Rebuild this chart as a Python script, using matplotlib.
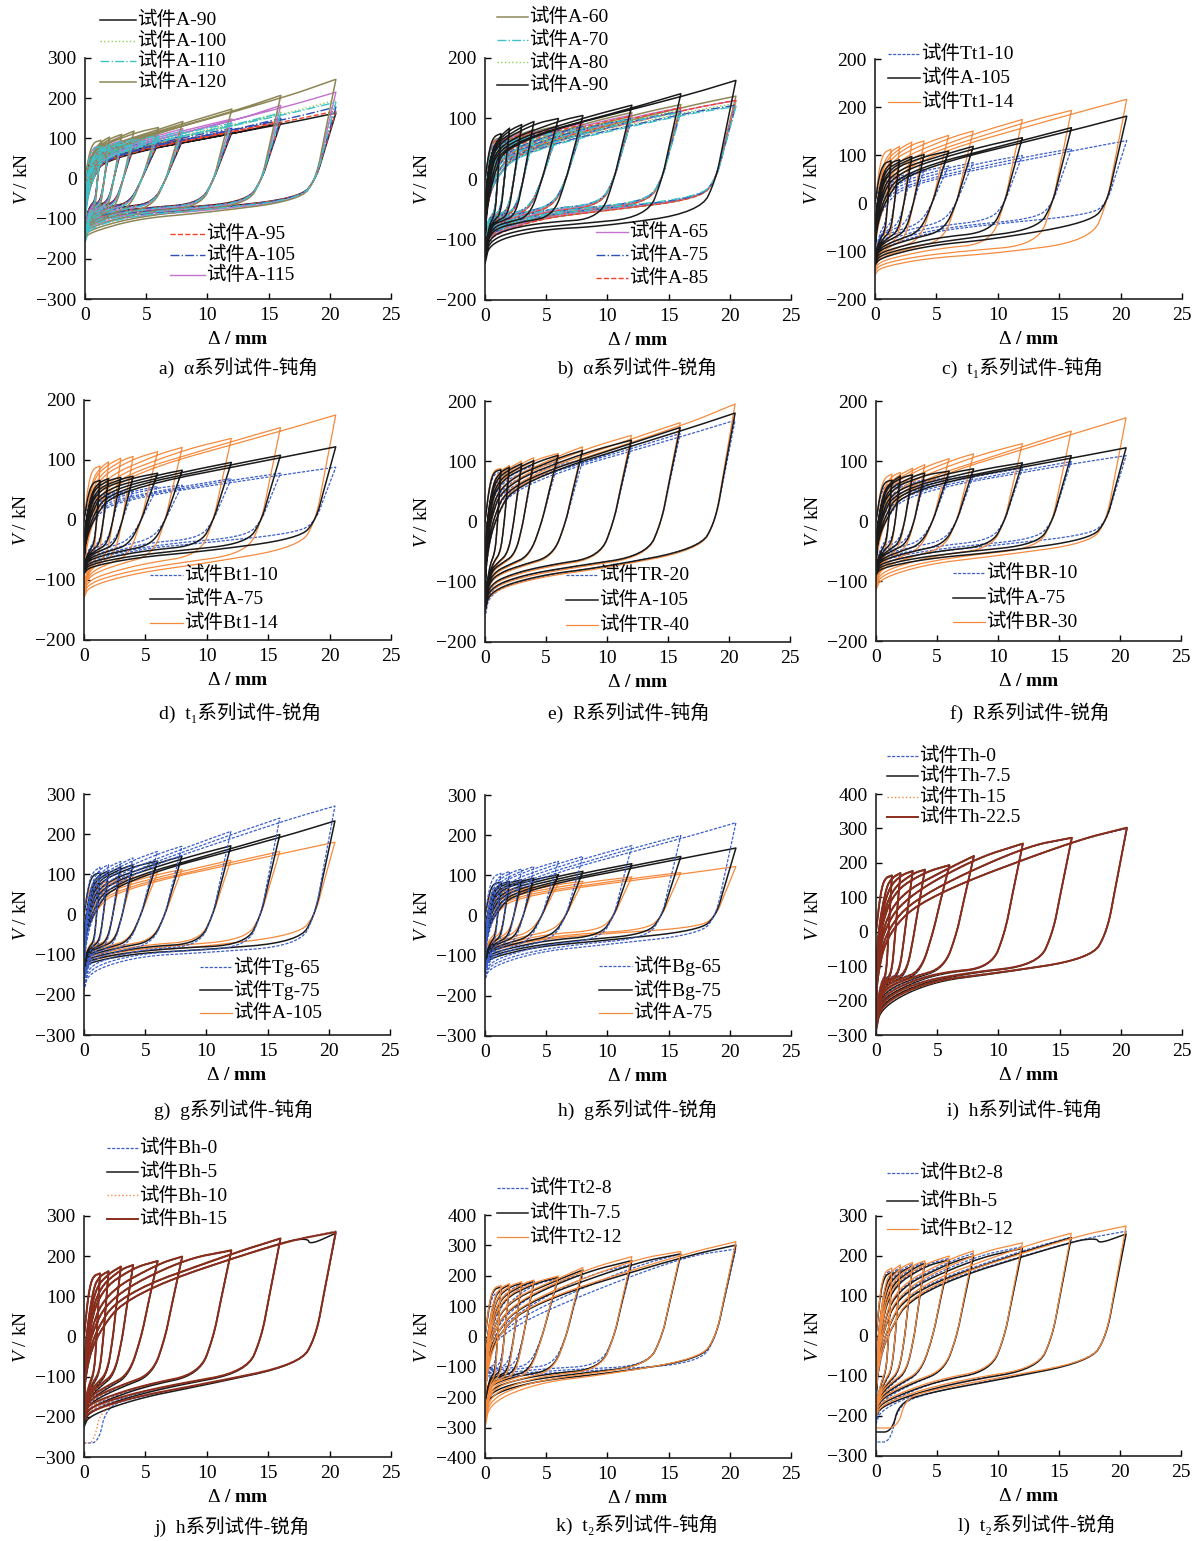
import numpy as np
import matplotlib
matplotlib.use('Agg')
import matplotlib.pyplot as plt
from matplotlib.lines import Line2D

plt.rcParams['font.family'] = ['Liberation Serif', 'Noto Sans CJK SC', 'DejaVu Sans']
plt.rcParams['mathtext.fontset'] = 'custom'
plt.rcParams['mathtext.rm'] = 'Liberation Serif'
plt.rcParams['mathtext.it'] = 'Liberation Serif:italic'
plt.rcParams['mathtext.bf'] = 'Liberation Serif:bold'
plt.rcParams['axes.unicode_minus'] = True

W, H = 1198, 1541

# loading amplitudes (mm), same for every specimen
amp = [1.3, 2, 3, 4, 6, 8, 12, 16, 20.5]
# displacements (mm) where the negative branch is read
low_x = [0, 0.5, 5, 10, 16, 20]

# ---- a) alpha series, obtuse
a_names = ['试件A-90', '试件A-100', '试件A-110', '试件A-120', '试件A-95', '试件A-105', '试件A-115']
a_peak = [[68, 72, 76, 80, 88, 97, 115, 140, 163],
          [75, 80, 86, 92, 102, 113, 135, 165, 195],
          [80, 86, 92, 98, 108, 118, 138, 163, 190],
          [95, 103, 110, 118, 127, 142, 173, 207, 247],
          [70, 75, 80, 84, 92, 101, 120, 145, 168],
          [72, 78, 83, 88, 96, 106, 125, 150, 178],
          [82, 88, 95, 102, 112, 124, 148, 182, 215]]
a_yield = [62, 70, 75, 90, 65, 68, 78]
a_low = [[-125, -95, -85, -75, -55, -40],
         [-140, -100, -88, -78, -58, -42],
         [-160, -110, -88, -78, -58, -42],
         [-150, -130, -95, -85, -62, -45],
         [-130, -98, -85, -76, -55, -40],
         [-135, -100, -86, -77, -57, -40],
         [-145, -105, -90, -80, -60, -45]]
a_soft = [0.2, 0.2, 0.2, 0.2, 0.2, 0.2, 0.2]

# ---- b) alpha series, acute
b_names = ['试件A-60', '试件A-70', '试件A-80', '试件A-90', '试件A-65', '试件A-75', '试件A-85']
b_peak = [[68, 72, 78, 82, 88, 95, 110, 123, 137],
          [58, 63, 68, 72, 78, 85, 100, 110, 120],
          [62, 67, 72, 76, 82, 88, 102, 114, 125],
          [75, 84, 90, 95, 100, 105, 122, 141, 163],
          [66, 70, 75, 80, 86, 92, 106, 118, 130],
          [60, 65, 70, 75, 80, 87, 100, 112, 122],
          [64, 69, 74, 78, 84, 90, 104, 118, 130]]
b_yield = [65, 55, 60, 70, 62, 57, 62]
b_low = [[-110, -88, -62, -52, -38, -25],
         [-100, -85, -57, -48, -34, -22],
         [-105, -86, -58, -49, -35, -24],
         [-140, -95, -82, -78, -62, -45],
         [-110, -88, -60, -50, -36, -25],
         [-105, -85, -57, -48, -35, -25],
         [-115, -90, -62, -52, -38, -26]]
b_soft = [0.45, 0.45, 0.45, 0.2, 0.45, 0.45, 0.45]

# ---- c) t1 series, obtuse
c_names = ['试件Tt1-10', '试件A-105', '试件Tt1-14']
c_peak = [[55, 58, 63, 70, 77, 84, 99, 113, 130],
          [88, 90, 97, 101, 108, 118, 136, 157, 181],
          [112, 118, 127, 129, 141, 150, 174, 193, 216]]
c_yield = [50, 82, 105]
c_low = [[-130, -85, -57, -43, -30, -15],
         [-130, -110, -85, -75, -50, -25],
         [-150, -130, -112, -105, -92, -60]]
c_soft = [0.45, 0.35, 0.35]

# ---- d) t1 series, acute
d_names = ['试件Bt1-10', '试件A-75', '试件Bt1-14']
d_peak = [[42, 45, 48, 50, 56, 58, 69, 78, 88],
          [66, 69, 71, 73, 78, 83, 96, 108, 122],
          [90, 97, 103, 106, 114, 121, 136, 154, 175]]
d_yield = [40, 62, 85]
d_low = [[-85, -70, -45, -38, -25, -15],
         [-90, -75, -60, -52, -38, -20],
         [-130, -105, -85, -72, -55, -30]]
d_soft = [0.35, 0.35, 0.35]

# ---- e) R series, obtuse
e_names = ['试件TR-20', '试件A-105', '试件TR-40']
e_peak = [[82, 85, 89, 93, 99, 101, 126, 146, 168],
          [86, 90, 96, 101, 110, 118, 135, 156, 180],
          [88, 93, 100, 106, 113, 124, 143, 164, 195]]
e_yield = [78, 82, 85]
e_low = [[-160, -105, -88, -75, -55, -30],
         [-150, -105, -87, -75, -55, -30],
         [-150, -108, -90, -77, -57, -32]]
e_soft = [0.35, 0.35, 0.35]

# ---- f) R series, acute
f_names = ['试件BR-10', '试件A-75', '试件BR-30']
f_peak = [[62, 65, 67, 69, 73, 77, 88, 99, 109],
          [68, 75, 77, 80, 83, 87, 97, 109, 122],
          [78, 81, 88, 94, 104, 112, 129, 150, 172]]
f_yield = [58, 65, 72]
f_low = [[-85, -65, -50, -40, -28, -15],
         [-90, -75, -60, -52, -38, -20],
         [-115, -90, -68, -58, -45, -25]]
f_soft = [0.35, 0.35, 0.35]

# ---- g) g series, obtuse
g_names = ['试件Tg-65', '试件Tg-75', '试件A-105']
g_peak = [[118, 124, 132, 141, 157, 170, 207, 240, 270],
          [104, 108, 118, 124, 133, 145, 171, 199, 233],
          [80, 83, 90, 96, 104, 112, 135, 157, 180]]
g_yield = [105, 98, 76]
g_low = [[-190, -130, -100, -95, -90, -60],
         [-135, -115, -93, -88, -80, -50],
         [-130, -110, -88, -80, -60, -35]]
g_soft = [0.35, 0.35, 0.35]

# ---- h) g series, acute
h_names = ['试件Bg-65', '试件Bg-75', '试件A-75']
h_peak = [[105, 110, 116, 122, 135, 147, 174, 199, 231],
          [82, 85, 89, 93, 102, 110, 129, 147, 168],
          [65, 68, 70, 73, 81, 85, 96, 107, 122]]
h_yield = [98, 80, 62]
h_low = [[-160, -120, -85, -72, -55, -35],
         [-125, -100, -73, -62, -45, -25],
         [-100, -85, -55, -45, -35, -20]]
h_soft = [0.35, 0.35, 0.35]

# ---- i) h series, obtuse
i_names = ['试件Th-0', '试件Th-7.5', '试件Th-15', '试件Th-22.5']
i_peak = [[162, 170, 176, 180, 192, 219, 255, 272, 300],
          [164, 171, 177, 181, 194, 220, 256, 273, 302],
          [163, 170, 176, 180, 193, 219, 256, 273, 303],
          [163, 170, 176, 180, 193, 220, 256, 273, 302]]
i_yield = [153, 156, 155, 155]
i_low = [[-270, -185, -135, -120, -90, -60],
         [-290, -200, -138, -121, -91, -60],
         [-280, -195, -136, -120, -90, -60],
         [-285, -190, -135, -120, -91, -60]]
i_soft = [0.7, 0.7, 0.7, 0.7]

# ---- j) h series, acute
j_names = ['试件Bh-0', '试件Bh-5', '试件Bh-10', '试件Bh-15']
j_peak = [[157, 162, 174, 178, 188, 199, 214, 244, 262],
          [157, 163, 174, 178, 188, 199, 215, 244, 257],
          [158, 163, 175, 179, 189, 200, 216, 245, 262],
          [157, 162, 174, 178, 188, 199, 214, 244, 260]]
j_yield = [148, 150, 150, 150]
j_low = [[-225, -185, -145, -118, -85, -45],
         [-225, -190, -148, -120, -86, -45],
         [-220, -185, -143, -117, -85, -45],
         [-210, -180, -143, -117, -85, -45]]
j_soft = [0.6, 0.6, 0.6, 0.6]
j_floor = [(-265, 1.2), None, (-265, 0.8), None]   # (force, end displacement)
j_dip = [None, (18.4, 18), None, None]              # (displacement, drop)

# ---- k) t2 series, obtuse
k_names = ['试件Tt2-8', '试件Th-7.5', '试件Tt2-12']
k_peak = [[150, 160, 172, 180, 190, 205, 238, 272, 288],
          [163, 170, 175, 181, 195, 219, 250, 272, 301],
          [168, 174, 180, 186, 199, 227, 263, 280, 312]]
k_yield = [140, 155, 160]
k_low = [[-150, -135, -120, -110, -100, -70],
         [-250, -175, -140, -122, -90, -55],
         [-300, -195, -145, -125, -88, -50]]
k_soft = [0.9, 0.6, 0.6]

# ---- l) t2 series, acute
l_names = ['试件Bt2-8', '试件Bh-5', '试件Bt2-12']
l_peak = [[165, 172, 180, 186, 194, 207, 223, 247, 262],
          [160, 167, 175, 182, 190, 200, 219, 246, 255],
          [170, 178, 184, 188, 200, 213, 233, 257, 275]]
l_yield = [155, 150, 160]
l_low = [[-230, -185, -135, -108, -78, -40],
         [-210, -180, -135, -110, -80, -40],
         [-210, -175, -130, -105, -78, -40]]
l_soft = [0.5, 0.5, 0.5]
l_floor = [(-265, 1.2), (-240, 1.3), (-230, 1.8)]
l_dip = [None, (18.3, 15), None]

# line styles
BLACK = dict(color='#1a1a1a', linewidth=1.1, linestyle='-')
BLUE = dict(color='#3b5fc9', linewidth=0.9, linestyle=(0, (2.5, 1.2)))
ORANGE = dict(color='#f58a3d', linewidth=0.9, linestyle='-')
ORANGE_DOT = dict(color='#f58a3d', linewidth=1.0, linestyle=':')
BROWN = dict(color='#8a2d1c', linewidth=1.4, linestyle='-')
GREEN = dict(color='#8fd14f', linewidth=1.0, linestyle=':')
CYAN = dict(color='#3fc1c9', linewidth=1.0, linestyle='-.')
OLIVE = dict(color='#8d8757', linewidth=1.1, linestyle='-')
RED = dict(color='#f2402a', linewidth=1.0, linestyle='--')
NAVY = dict(color='#2e4fb5', linewidth=1.0, linestyle='-.')
VIOLET = dict(color='#c272cf', linewidth=1.0, linestyle='-')


def chaikin(p, n=3):
    p = np.asarray(p, float)
    for _ in range(n):
        q = 0.75 * p[:-1] + 0.25 * p[1:]
        r = 0.25 * p[:-1] + 0.75 * p[1:]
        m = np.empty((2 * len(q), 2))
        m[0::2] = q
        m[1::2] = r
        p = np.vstack([p[:1], m, p[-1:]])
    return p


def loops(peak, vy, low, soft, kf, floor=None, dip=None):
    up_x = [0, 0.7] + amp
    up_v = [0, vy] + list(peak)
    segs = []
    v0 = 0.0
    last = len(amp) - 1
    for i, (d, vp) in enumerate(zip(amp, peak)):
        s = d / amp[-1]
        # reloading branch
        if i == 0:
            up = [(0, 0), (0.35, 0.7 * vy), (0.7, vy), (d, vp)]
        else:
            dp, vpp = amp[i - 1], peak[i - 1]
            xz = 0.1 + 0.045 * dp * (0.5 + soft)
            xa = xz + 0.4 + 0.25 * soft * dp
            ca = 0.85 - 0.4 * soft * min(1, dp / 8)
            up = [(0, v0), (0.04, 0.5 * v0), (xz, 0), (xa, ca * np.interp(xa, up_x, up_v))]
            if dp > xa + 0.3:
                up.append((dp, 0.96 * vpp))
            if dip is not None and i == last:
                xd, dv = dip
                x_prev, v_prev = up[-1]
                line = lambda x: v_prev + (vp - v_prev) * (x - x_prev) / (d - x_prev)
                up += [(xd - 0.2, line(xd - 0.2)), (xd, line(xd) - dv)]
            up.append((d, vp))
        # unloading and negative branch
        u = min(1.0, d / 6)
        x1 = d - (0.7 + 0.01 * d) * u
        x2 = d - (1.2 + 0.02 * d) * u
        xk = x2 - (0.9 + 0.02 * d) * u
        fk = kf + (1 - kf) * s
        g0 = 0.8 + 0.2 * s

        def lf(x):
            return (g0 + (fk - g0) * x / xk) * np.interp(x, low_x, low)

        lo = [(d, vp), (x1, 0.45 * vp), (x2, 0)]
        tail = [xk, 0.55 * xk, 0.25 * xk, min(0.4, 0.1 * xk), 0]
        if floor is not None and i == last:
            fv, fx = floor
            tail = [x for x in tail if x > fx + 0.6]
            lo += [(x, lf(x)) for x in tail]
            lo += [(fx + 0.6, lf(fx + 0.6)), (fx, fv), (0, fv)]
        else:
            lo += [(x, lf(x)) for x in tail]
        v0 = lo[-1][1]
        segs.append(chaikin(up, 3))
        segs.append(chaikin(lo, 3)[1:])
    pts = np.vstack(segs)
    return pts[:, 0], pts[:, 1]


fig = plt.figure(figsize=(W / 100, H / 100), dpi=100)


def make_axes(box, ylo, yhi, labels=None):
    l, r, t, b = box
    ax = fig.add_axes([l / W, 1 - b / H, (r - l) / W, (b - t) / H])
    ax.set_xlim(0, 25)
    ax.set_ylim(ylo, yhi)
    ax.set_xticks(range(0, 26, 5))
    yt = list(range(ylo, yhi + 1, 100))
    ax.set_yticks(yt)
    if labels is None:
        labels = [str(v).replace('-', '\u2212') for v in yt]
    ax.set_yticklabels(labels)
    for sp in ('top', 'right'):
        ax.spines[sp].set_visible(False)
    for sp in ('left', 'bottom'):
        ax.spines[sp].set_linewidth(1.2)
        ax.spines[sp].set_color('#222222')
    ax.tick_params(direction='in', length=4, width=1, labelsize=14, pad=6)
    ax.set_xlabel(r'$\mathit{Δ}$ / mm', fontsize=14, fontweight='bold', labelpad=5)
    ax.set_ylabel(r'$V$ / kN', fontsize=14, labelpad=4)
    return ax


def draw_key(x0, x1, y, sty, text):
    fy = 1 - y / H
    fig.add_artist(Line2D([x0 / W, x1 / W], [fy, fy], transform=fig.transFigure, **sty))
    fig.text((x1 + 1) / W, fy, text, fontsize=14, va='center', ha='left')


def panel(box, ylo, yhi, names, peak, yld, low, soft, kf, styles, order, keys,
          caption, cap_xy, floors=None, dips=None, labels=None):
    ax = make_axes(box, ylo, yhi, labels)
    for k in order:
        fl = floors[k] if floors else None
        dp = dips[k] if dips else None
        x, v = loops(peak[k], yld[k], low[k], soft[k], kf, fl, dp)
        ax.plot(x, v, **styles[k])
    for x0, x1, y0, dy, idx in keys:
        for n, k in enumerate(idx):
            draw_key(x0, x1, y0 + n * dy, styles[k], names[k])
    fig.text(cap_xy[0] / W, 1 - cap_xy[1] / H, caption, fontsize=14, ha='center', va='center')
    return ax


panel((85, 391, 58, 299), -300, 300, a_names, a_peak, a_yield, a_low, a_soft, 0.55,
      [BLACK, GREEN, CYAN, OLIVE, RED, NAVY, VIOLET], [0, 4, 1, 5, 6, 3, 2],
      [(100, 136, 20, 20.5, [0, 1, 2, 3]), (170, 205, 234, 20.5, [4, 5, 6])],
      'a)  α系列试件-钝角', (238, 368))

panel((485, 791, 58, 300), -200, 200, b_names, b_peak, b_yield, b_low, b_soft, 0.6,
      [OLIVE, CYAN, GREEN, BLACK, VIOLET, NAVY, RED], [0, 4, 6, 2, 5, 1, 3],
      [(497, 528, 17, 22.7, [0, 1, 2, 3]), (596, 628, 232, 23, [4, 5, 6])],
      'b)  α系列试件-锐角', (637, 368))

panel((875, 1182, 59, 299), -200, 300, c_names, c_peak, c_yield, c_low, c_soft, 0.5,
      [BLUE, BLACK, ORANGE], [0, 2, 1],
      [(888, 920, 54, 24, [0, 1, 2])],
      'c)  t\u2081系列试件-钝角', (1022, 368),
      labels=['\u2212200', '\u2212100', '0', '100', '200', '200'])

panel((84, 391, 400, 640), -200, 200, d_names, d_peak, d_yield, d_low, d_soft, 0.5,
      [BLUE, BLACK, ORANGE], [0, 2, 1],
      [(150, 183, 575, 24, [0, 1, 2])],
      'd)  t\u2081系列试件-锐角', (240, 713))

panel((485, 790, 401, 642), -200, 200, e_names, e_peak, e_yield, e_low, e_soft, 0.45,
      [BLUE, BLACK, ORANGE], [0, 2, 1],
      [(566, 598, 575, 25, [0, 1, 2])],
      'e)  R系列试件-钝角', (629, 713))

panel((876, 1181, 401, 641), -200, 200, f_names, f_peak, f_yield, f_low, f_soft, 0.45,
      [BLUE, BLACK, ORANGE], [0, 2, 1],
      [(953, 985, 573, 24.5, [0, 1, 2])],
      'f)  R系列试件-锐角', (1030, 713))

panel((84, 390, 794, 1035), -300, 300, g_names, g_peak, g_yield, g_low, g_soft, 0.55,
      [BLUE, BLACK, ORANGE], [2, 1, 0],
      [(200, 232, 967, 23, [0, 1, 2])],
      'g)  g系列试件-钝角', (234, 1110))

panel((485, 791, 795, 1036), -300, 300, h_names, h_peak, h_yield, h_low, h_soft, 0.5,
      [BLUE, BLACK, ORANGE], [2, 1, 0],
      [(599, 632, 966, 23.5, [0, 1, 2])],
      'h)  g系列试件-锐角', (638, 1110))

panel((876, 1182, 794, 1035), -300, 400, i_names, i_peak, i_yield, i_low, i_soft, 0.65,
      [BLUE, BLACK, ORANGE_DOT, BROWN], [0, 1, 2, 3],
      [(887, 918, 756, 20.3, [0, 1, 2, 3])],
      'i)  h系列试件-钝角', (1025, 1110))

panel((84, 391, 1216, 1457), -300, 300, j_names, j_peak, j_yield, j_low, j_soft, 0.45,
      [BLUE, BLACK, ORANGE_DOT, BROWN], [0, 1, 2, 3],
      [(107, 138, 1148, 23.7, [0, 1, 2, 3])],
      'j)  h系列试件-锐角', (232, 1527), floors=j_floor, dips=j_dip)

panel((485, 791, 1215, 1458), -400, 400, k_names, k_peak, k_yield, k_low, k_soft, 0.65,
      [BLUE, BLACK, ORANGE], [0, 1, 2],
      [(497, 528, 1188, 24.5, [0, 1, 2])],
      'k)  t\u2082系列试件-钝角', (637, 1525))

panel((876, 1181, 1216, 1456), -300, 300, l_names, l_peak, l_yield, l_low, l_soft, 0.45,
      [BLUE, BLACK, ORANGE], [0, 1, 2],
      [(887, 918, 1173, 28, [0, 1, 2])],
      'l)  t\u2082系列试件-锐角', (1037, 1525), floors=l_floor, dips=l_dip)

fig.savefig('out.png', dpi=100)
